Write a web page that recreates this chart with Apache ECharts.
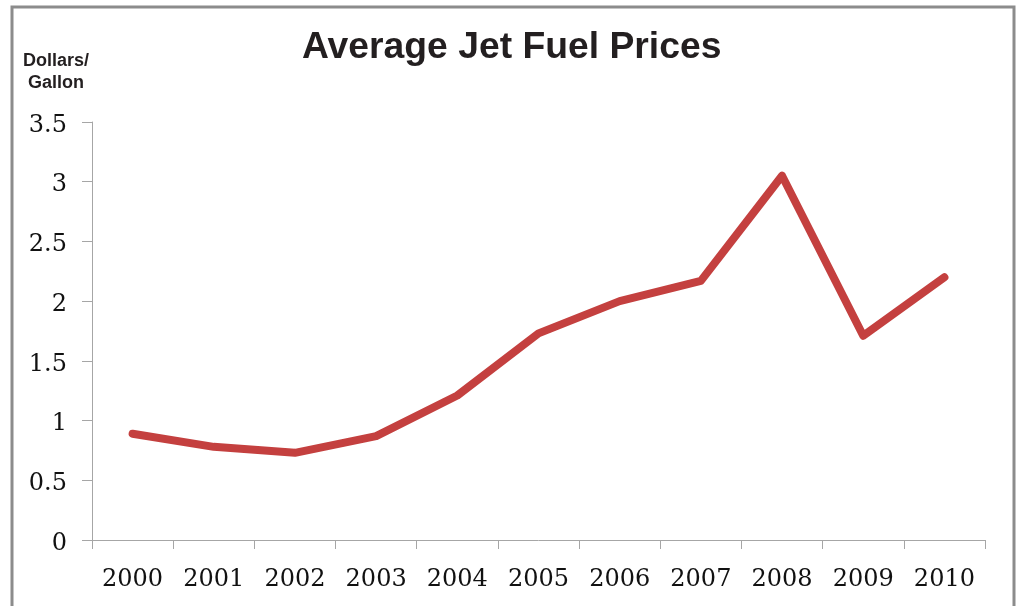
<!DOCTYPE html>
<html>
<head>
<meta charset="utf-8">
<title>Average Jet Fuel Prices</title>
<script src="https://cdn.jsdelivr.net/npm/echarts@6/dist/echarts.min.js"></script>
<style>
  html, body { margin: 0; padding: 0; background: #ffffff; }
  #chart { width: 1019px; height: 606px; }
</style>
</head>
<body>
<div id="chart"></div>
<script>
// Annual average jet fuel price, dollars per gallon
const years = ['2000', '2001', '2002', '2003', '2004', '2005', '2006', '2007', '2008', '2009', '2010'];
const prices = [0.89, 0.78, 0.73, 0.87, 1.21, 1.73, 2.00, 2.17, 3.05, 1.71, 2.20];
const yTicks = { min: 0, max: 3.5, interval: 0.5 };
const chartTitle = 'Average Jet Fuel Prices';
const unitLabel = 'Dollars/\nGallon';

const chart = echarts.init(document.getElementById('chart'), null, { renderer: 'canvas' });

chart.setOption({
  backgroundColor: '#ffffff',
  animation: false,
  title: {
    text: chartTitle,
    left: 297,
    top: 24,
    textStyle: {
      fontFamily: 'Liberation Sans, Arial, sans-serif',
      fontWeight: 'bold',
      fontSize: 37.3,
      color: '#231f20'
    }
  },
  graphic: [
    {
      type: 'rect',
      silent: true,
      shape: { x: 12, y: 7, width: 1002, height: 640 },
      style: { fill: 'none', stroke: '#8c8c8c', lineWidth: 3 }
    },
    {
      type: 'text',
      silent: true,
      x: 56,
      y: 50,
      style: {
        text: unitLabel,
        fontFamily: 'Liberation Sans, Arial, sans-serif',
        fontWeight: 'bold',
        fontSize: 18,
        lineHeight: 22,
        align: 'center',
        verticalAlign: 'top',
        fill: '#231f20'
      }
    }
  ],
  grid: { left: 92, right: 34, top: 122, bottom: 66, containLabel: false },
  xAxis: {
    type: 'category',
    data: years,
    boundaryGap: true,
    axisLine: { lineStyle: { color: '#a6a6a6', width: 1 } },
    axisTick: { show: true, length: 9, alignWithLabel: false, lineStyle: { color: '#a6a6a6' } },
    axisLabel: {
      margin: 28,
      fontFamily: 'DejaVu Serif, serif',
      fontSize: 24,
      color: '#111111'
    },
    splitLine: { show: false }
  },
  yAxis: {
    type: 'value',
    min: yTicks.min,
    max: yTicks.max,
    interval: yTicks.interval,
    axisLine: { show: true, lineStyle: { color: '#a6a6a6', width: 1 } },
    axisTick: { show: true, length: 10, lineStyle: { color: '#a6a6a6' } },
    axisLabel: {
      margin: 25,
      fontFamily: 'DejaVu Serif, serif',
      fontSize: 24,
      color: '#111111',
      verticalAlign: 'top',
      lineHeight: 7
    },
    splitLine: { show: false }
  },
  series: [
    {
      type: 'line',
      data: prices,
      symbol: 'none',
      smooth: false,
      lineStyle: { color: '#c4403f', width: 8, cap: 'round', join: 'round' }
    }
  ]
});
</script>
</body>
</html>
